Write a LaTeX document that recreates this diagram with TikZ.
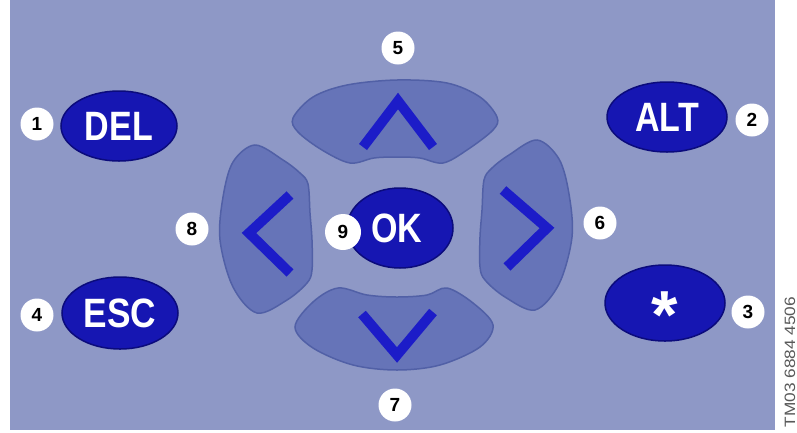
\documentclass[tikz,border=0pt]{standalone}
\usepackage{fontspec}
\setmainfont{Liberation Sans}
\usepackage{graphicx}
\usetikzlibrary{shapes.geometric}
\definecolor{panel}{HTML}{8E98C6}
\definecolor{padfill}{HTML}{6674B8}
\definecolor{padline}{HTML}{5160A6}
\definecolor{btnfill}{HTML}{1616B2}
\definecolor{btnline}{HTML}{0B0B7C}
\definecolor{chevcol}{HTML}{1C1CC8}
\tikzset{
  keybtn/.style={ellipse, fill=btnfill, draw=btnline, line width=1.5pt,
    inner sep=0pt, text=white,
    font=\bfseries\fontsize{41}{41}\selectfont},
  num/.style={circle, fill=white, inner sep=0pt, minimum size=33pt,
    font=\bfseries\fontsize{19}{19}\selectfont, text=black},
  pad/.style={fill=padfill, draw=padline, line width=1.5pt},
  chev/.style={draw=chevcol, line width=10pt, line join=miter, line cap=butt}
}
\begin{document}
\begin{tikzpicture}[x=1pt,y=-1pt]
\useasboundingbox (0,0) rectangle (797,432);
\fill[white] (0,0) rectangle (797,432);
\fill[panel] (10,0) rectangle (775,430);

% direction pads
\draw[pad] plot[smooth cycle, tension=0.55] coordinates {
  (293,118) (313,97) (347,85) (397,80) (447,83) (480,97) (497,117)
  (493,130) (467,150) (443,163) (420,158) (397,157) (374,158) (350,163)
  (322,150) (298,132)};
\draw[pad] plot[smooth cycle, tension=0.55] coordinates {
  (338,288) (367,295) (397,297) (427,295) (447,288) (473,303) (493,325)
  (480,347) (440,365) (397,370) (353,365) (313,348) (295,327) (313,302)};
\draw[pad] plot[smooth cycle, tension=0.55] coordinates {
  (255,145) (283,160) (300,173) (308,184) (310,213) (312,240) (312,270)
  (307,283) (287,300) (257,313) (233,287) (220,240) (223,197) (233,162)};
\draw[pad] plot[smooth cycle, tension=0.55] coordinates {
  (537,140) (509,155) (492,168) (484,180) (482,210) (480,237) (480,267)
  (485,280) (505,297) (535,310) (559,284) (572,237) (569,194) (559,159)};

% chevrons
\draw[chev] (363,147) -- (398,101) -- (433,147);
\draw[chev] (362,314) -- (397,355) -- (433,312);
\draw[chev] (290,195) -- (249,233) -- (290,273);
\draw[chev] (503,190) -- (547,228) -- (507,267);

% keys
\node[keybtn, minimum width=116pt, minimum height=70pt] (del) at (119,126) {\scalebox{0.83}[1]{DEL}};
\node[keybtn, minimum width=120pt, minimum height=70pt] (alt) at (667,117) {\scalebox{0.83}[1]{ALT}};
\node[keybtn, minimum width=116pt, minimum height=72pt] (esc) at (120,313) {\scalebox{0.86}[1]{ESC}};
\node[keybtn, minimum width=120pt, minimum height=76pt] (star) at (665,303) {};
\node[anchor=base, text=white, font=\bfseries\fontsize{68}{68}\selectfont] (startxt) at (665,338) {*};
\node[keybtn, minimum width=106pt, minimum height=80pt] (ok) at (400,228) {\hspace{-6pt}\scalebox{0.83}[1]{OK}};

% numbers
\node[num] (n1) at (37,124) {1};
\node[num] (n2) at (752,120) {2};
\node[num] (n3) at (748,312) {3};
\node[num] (n4) at (37,315) {4};
\node[num] (n5) at (398,48) {5};
\node[num] (n6) at (600,223) {6};
\node[num] (n7) at (395,405) {7};
\node[num] (n8) at (192,229) {8};
\node[num, minimum size=36pt] (n9) at (343,232) {9};

% code
\node[rotate=90, text=black!65, font=\fontsize{15}{15}\selectfont] (code) at (790,362) {\scalebox{1.15}[1]{TM03 6884 4506}};
\end{tikzpicture}
\end{document}
